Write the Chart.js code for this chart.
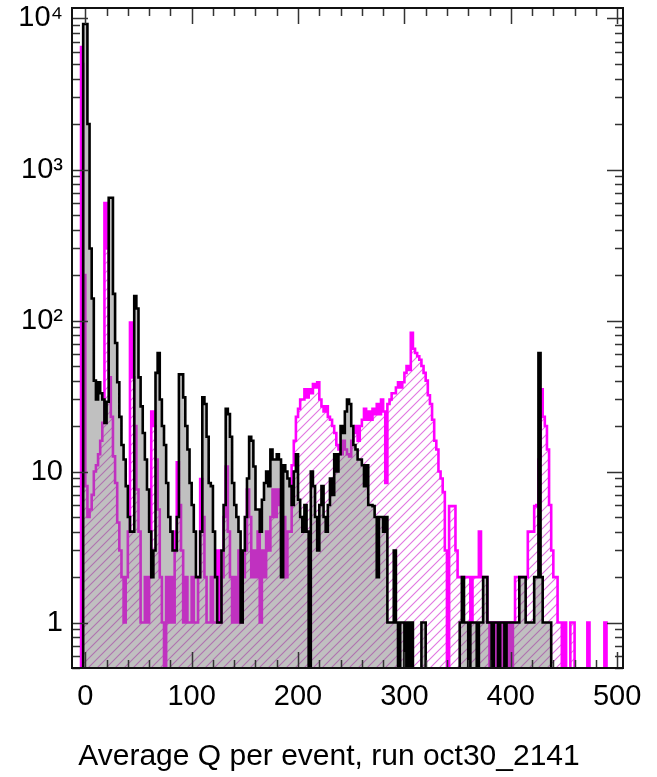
<!DOCTYPE html>
<html>
<head>
<meta charset="utf-8">
<script src="https://cdn.jsdelivr.net/npm/chart.js@4.4.1/dist/chart.umd.min.js"></script>
<style>
    html, body { margin: 0; padding: 0; background: #fff; }
</style>
</head>
<body>
<canvas id="chart_q" width="657" height="777"></canvas>
<script>
// histogram bins: 2 units wide, first bin starts at -4
const BIN_START = -4;
const BIN_WIDTH = 2;

// black histogram (counts per bin)
const blackCounts = [
    0, 0,
    9200, 9200, 2000, 300, 140, 40, 30, 39, 33, 30,
    21, 29, 650, 650, 150, 71, 39, 23, 15, 12,
    8, 5, 4, 4, 145, 120, 42, 27, 18, 12,
    7.6, 4, 2, 3, 45, 61, 30, 20, 15, 8.4,
    5, 4, 3, 3, 5, 44, 44, 31, 20, 14,
    8.4, 6, 4, 2, 2, 4, 31, 28, 17, 8.4,
    8, 4, 2, 1, 1, 3, 6, 26, 24, 17,
    8.4, 6, 5, 4, 1, 3, 5, 9, 17, 16,
    10.8, 5.6, 5.6, 4, 6.5, 8.4, 10, 8, 14, 12,
    12, 13, 12, 2, 11, 10, 9, 8, 6, 10,
    13, 6.5, 5, 4, 6, 4, 0, 10, 8, 5,
    3, 6, 8, 5, 4, 6, 9, 7, 13, 10,
    13, 20, 18, 25, 30, 28, 20, 15, 14, 12,
    12, 11, 8, 11, 6, 6, 5.9, 5, 2, 5,
    5, 4, 5, 1, 1, 1, 3, 1, 0, 1,
    1, 0, 1, 0, 1, 0, 0, 0, 0, 1,
    1, 0, 0, 0, 0, 0, 0, 0, 0, 0,
    0, 0, 0, 0, 0, 0, 0, 1, 2, 1,
    1, 0, 1, 1, 1, 0, 1, 1, 2, 2,
    1, 1, 0, 1, 1, 0, 1, 1, 0, 1,
    1, 1, 1, 1, 1, 2, 2, 2, 1, 1,
    1, 1, 2, 2, 61, 2, 1, 1, 1, 1,
    0, 0, 0, 0, 0, 0, 0, 0, 0, 0,
    0, 0, 0, 0, 0, 0, 0, 0, 0, 0,
    0, 0, 0, 0, 0, 0, 0, 0, 0, 0
];

// magenta histogram (counts per bin)
const magentaCounts = [
    6600, 5000,
    200, 8, 5, 5.6, 7, 10, 11, 13, 16, 21,
    600, 300, 42, 23, 12.6, 8.4, 4.6, 3, 2, 1,
    2, 4, 97, 42, 20, 7.6, 4, 1, 1, 2,
    1, 2, 25, 20, 12, 5.6, 2, 1, 0, 2,
    1, 2, 1, 4, 11.5, 6, 3, 1, 2, 1,
    1, 2, 1, 1, 2, 8.9, 5, 2, 1, 1,
    2, 1, 1, 3, 1, 2, 5, 10.8, 4, 2,
    1, 2, 1, 3, 1, 2, 3, 7.6, 5, 2,
    3, 2, 4, 1, 3, 2, 4, 3, 5, 7.6,
    5, 7.6, 6, 3, 5, 2, 4, 4, 11, 16,
    23, 26, 30, 30, 35, 31, 35, 33, 38, 36,
    39, 30, 27, 25, 27, 23, 22, 20, 18, 15,
    14, 13, 16, 14, 13, 12.6, 16, 18, 20, 16,
    20, 22, 26, 22, 25, 22, 26, 24, 28, 24,
    30, 25, 8.4, 28, 30, 33, 33, 36, 39, 36,
    39, 45, 50, 47, 83, 65, 61, 58, 55, 50,
    45, 40, 32, 28, 22, 16, 14, 10, 9, 7.3,
    3, 0, 5.9, 5.9, 5.9, 3, 2, 2, 2, 2,
    2, 2, 1, 2, 2, 2, 4, 2, 2, 2,
    1, 0, 1, 1, 0, 1, 0, 1, 1, 0,
    1, 0, 1, 2, 2, 2, 2, 2, 2, 4,
    4, 4, 5.9, 6, 12, 35, 23, 20, 14, 6,
    3, 2, 2, 1, 1, 0, 1, 0, 0, 1,
    1, 0, 0, 0, 0, 0, 0, 1, 0, 0,
    0, 0, 0, 0, 0, 1, 0, 0, 0, 0
];

const xTickValues = [0, 100, 200, 300, 400, 500];
const yTickValues = [1, 10, 100, 1000, 10000];
const yTickLabels = ["1", "10", "10\u00B2", "10\u00B3", "10\u2074"];
const xTitle = "Average Q per event, run oct30_2141";

const FONT = "'Liberation Sans', Arial, Helvetica, sans-serif";
const FLOOR = 0.2; // empty bins drop below the axis

// turn bin counts into step points (left edge of each bin, plus closing edge)
function toSteps(counts) {
    let pts = [{ x: BIN_START, y: FLOOR }];
    counts.forEach(function (c, i) {
        pts.push({ x: BIN_START + i * BIN_WIDTH, y: c > 0 ? c : FLOOR });
    });
    pts.push({ x: BIN_START + counts.length * BIN_WIDTH, y: FLOOR });
    return pts;
}

function makeHatch() {
    let c = document.createElement("canvas");
    c.width = 9;
    c.height = 9;
    let g = c.getContext("2d");
    g.strokeStyle = "rgba(222,110,222,0.95)";
    g.lineWidth = 1.1;
    g.beginPath();
    g.moveTo(-1, 10); g.lineTo(10, -1);
    g.moveTo(-1, 1); g.lineTo(1, -1);
    g.moveTo(8, 10); g.lineTo(10, 8);
    g.stroke();
    return g.createPattern(c, "repeat");
}

// white page behind everything
const whiteBg = {
    id: "whiteBg",
    beforeDraw(chart) {
        const ctx = chart.ctx;
        ctx.save();
        ctx.fillStyle = "#fff";
        ctx.fillRect(0, 0, chart.width, chart.height);
        ctx.restore();
    },
};

// inward ticks on all four sides, the frame, and the axis caption
const frameTicks = {
    id: "frameTicks",
    afterDatasetsDraw(chart) {
        const { ctx, chartArea: a } = chart;
        const xs = chart.scales.x, ys = chart.scales.y;
        ctx.save();
        ctx.strokeStyle = "#333";
        ctx.lineWidth = 1.5;
        ctx.beginPath();
        for (let v = 0; v <= 500; v += 20) {
            const px = Math.round(xs.getPixelForValue(v)) + 0.5;
            const len = v % 100 === 0 ? 16 : 8;
            ctx.moveTo(px, a.bottom); ctx.lineTo(px, a.bottom - len);
            ctx.moveTo(px, a.top); ctx.lineTo(px, a.top + len);
        }
        [0.1, 1, 10, 100, 1000, 10000].forEach(function (d) {
            for (let m = 1; m <= 9; m++) {
                const v = m * d;
                if (v < ys.min || v > ys.max) continue;
                const py = Math.round(ys.getPixelForValue(v)) + 0.5;
                const len = m === 1 ? 16 : 8;
                ctx.moveTo(a.left, py); ctx.lineTo(a.left + len, py);
                ctx.moveTo(a.right, py); ctx.lineTo(a.right - len, py);
            }
        });
        ctx.stroke();
        ctx.strokeStyle = "#111";
        ctx.lineWidth = 2;
        ctx.strokeRect(a.left, a.top, a.right - a.left, a.bottom - a.top);

        // caption sits a bit left of the plot centre, as in the original
        ctx.fillStyle = "#000";
        ctx.font = "30px " + FONT;
        ctx.textAlign = "center";
        ctx.textBaseline = "middle";
        ctx.fillText(xTitle, 329, 757);
        ctx.restore();
    },
};

let ctx = document.getElementById("chart_q").getContext("2d");

new Chart(ctx, {
    type: "line",
    data: {
        datasets: [
            {
                label: "black",
                data: toSteps(blackCounts),
                stepped: "after",
                borderColor: "#000",
                borderWidth: 2.6,
                backgroundColor: "rgba(112,112,112,0.44)",
                fill: "start",
                pointRadius: 0,
            },
            {
                label: "magenta",
                data: toSteps(magentaCounts),
                stepped: "after",
                borderColor: "#ff00ff",
                borderWidth: 2.6,
                backgroundColor: makeHatch(),
                fill: "start",
                pointRadius: 0,
            },
        ],
    },
    options: {
        responsive: false,
        devicePixelRatio: 1,
        animation: false,
        layout: { padding: { top: 8, right: 34, left: 0, bottom: 0 } },
        plugins: {
            legend: { display: false },
            tooltip: { enabled: false },
        },
        scales: {
            x: {
                type: "linear",
                min: -12.5,
                max: 505.5,
                grid: { display: false, drawTicks: false },
                border: { display: false },
                afterBuildTicks: function (scale) {
                    scale.ticks = xTickValues.map(function (v) { return { value: v }; });
                },
                afterFit: function (scale) {
                    scale.height = 109;
                    scale.paddingLeft = 0;
                    scale.paddingRight = 0;
                },
                ticks: {
                    autoSkip: false,
                    maxRotation: 0,
                    padding: 12,
                    color: "#000",
                    font: { family: FONT, size: 29 },
                },
                title: { display: false },
            },
            y: {
                type: "logarithmic",
                min: 0.5,
                max: 11735,
                grid: { display: false, drawTicks: false },
                border: { display: false },
                afterBuildTicks: function (scale) {
                    scale.ticks = yTickValues.map(function (v) { return { value: v }; });
                },
                afterFit: function (scale) {
                    scale.width = 72;
                    scale.paddingTop = 0;
                    scale.paddingBottom = 0;
                },
                ticks: {
                    autoSkip: false,
                    padding: 9,
                    color: "#000",
                    font: { family: FONT, size: 29 },
                    callback: function (value) {
                        const i = yTickValues.indexOf(value);
                        return i >= 0 ? yTickLabels[i] : "";
                    },
                },
            },
        },
    },
    plugins: [whiteBg, frameTicks],
});
</script>
</body>
</html>
